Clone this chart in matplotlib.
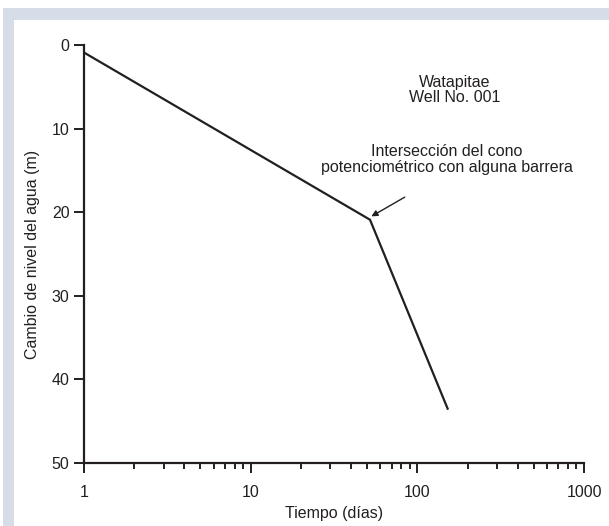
import matplotlib
matplotlib.use("Agg")
import matplotlib.pyplot as plt
from matplotlib.patches import Rectangle
from matplotlib.ticker import LogLocator, NullFormatter, FixedLocator

plt.rcParams['font.family'] = ['Liberation Sans', 'DejaVu Sans']

# datos
tiempo = [1, 52, 152]          # dias
descenso = [0.9, 20.9, 43.5]   # m
x_ticks = [1, 10, 100, 1000]
y_ticks = [0, 10, 20, 30, 40, 50]

W, H = 609, 526
FS = 11.5
INK = '#231f20'
fig = plt.figure(figsize=(W / 100, H / 100), dpi=100)

# marco gris-azulado
fig.patches.append(Rectangle((3 / W, 0), 1, 1 - 8 / H, transform=fig.transFigure,
                             facecolor='#d6dde8', edgecolor='none', zorder=-2))
fig.patches.append(Rectangle((14 / W, 0), 1, 1 - 20 / H, transform=fig.transFigure,
                             facecolor='white', edgecolor='none', zorder=-1))

ax = fig.add_axes([84 / W, 1 - 463 / H, 500 / W, 418 / H])
ax.patch.set_alpha(0)
ax.plot(tiempo, descenso, color=INK, lw=1.6, solid_joinstyle='miter')

ax.set_xscale('log')
ax.set_xlim(1, 1000)
ax.set_ylim(50, 0)
ax.xaxis.set_major_locator(FixedLocator(x_ticks))
ax.set_xticklabels([str(v) for v in x_ticks])
ax.xaxis.set_minor_locator(LogLocator(base=10, subs=range(2, 10)))
ax.xaxis.set_minor_formatter(NullFormatter())
ax.set_yticks(y_ticks)

for s in ['top', 'right']:
    ax.spines[s].set_visible(False)
for s in ['left', 'bottom']:
    ax.spines[s].set_linewidth(1.6)
    ax.spines[s].set_color(INK)

ax.tick_params(axis='both', which='major', direction='out', length=7.5, width=1.4,
               color=INK, labelsize=FS, labelcolor=INK, pad=3)
ax.tick_params(axis='x', which='minor', direction='out', length=4.5, width=1.4,
               color=INK)
ax.tick_params(axis='x', which='major', pad=8)

ax.set_xlabel('Tiempo (días)', fontsize=FS, color=INK, labelpad=5)
ax.set_ylabel('Cambio de nivel del agua (m)', fontsize=FS, color=INK, labelpad=8)

ax.text(0.742, 0.892, 'Watapitae\nWell No. 001', transform=ax.transAxes,
        ha='center', va='center', fontsize=FS, color=INK, linespacing=1.05)
ax.text(0.726, 0.726, 'Intersección del cono\npotenciométrico con alguna barrera',
        transform=ax.transAxes, ha='center', va='center', fontsize=FS,
        color=INK, linespacing=1.05)
ax.annotate('', xy=(53, 20.5), xytext=(84, 18.2),
            arrowprops=dict(arrowstyle='-|>', color=INK, lw=1.0,
                            mutation_scale=9, shrinkA=0, shrinkB=0))

fig.savefig('out.png', dpi=100)
